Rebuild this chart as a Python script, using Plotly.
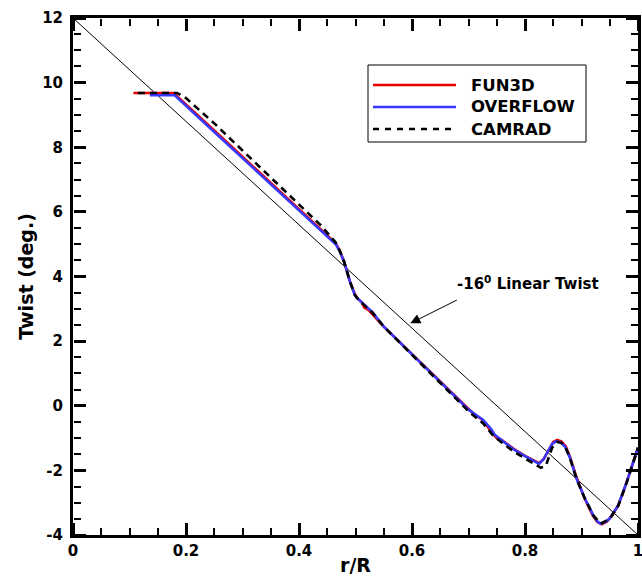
import plotly.graph_objects as go

# ---------------- data ----------------
fun3d_x = [0.107, 0.178, 0.25, 0.30, 0.35, 0.40, 0.44, 0.465, 0.472, 0.480, 0.490, 0.499, 0.505, 0.511,
           0.516, 0.522, 0.55, 0.60, 0.65, 0.70, 0.712, 0.722, 0.73, 0.742, 0.75, 0.758, 0.78, 0.80,
           0.815, 0.825, 0.833, 0.842, 0.85, 0.857, 0.864, 0.872, 0.88, 0.89, 0.905, 0.92, 0.928,
           0.936, 0.945, 0.955, 0.965, 0.975, 0.985, 0.993, 1.0]
fun3d_y = [9.68, 9.68, 8.52, 7.71, 6.90, 6.10, 5.45, 5.03, 4.80, 4.45, 3.85, 3.45, 3.30, 3.20,
           3.03, 2.98, 2.45, 1.60, 0.75, -0.12, -0.30, -0.40, -0.55, -0.85, -1.00, -1.05, -1.33, -1.55,
           -1.68, -1.78, -1.65, -1.35, -1.12, -1.06, -1.10, -1.25, -1.60, -2.15, -2.85, -3.40, -3.60,
           -3.67, -3.58, -3.38, -3.08, -2.62, -2.10, -1.65, -1.30]

overflow_x = [0.136, 0.18, 0.25, 0.30, 0.35, 0.40, 0.44, 0.465, 0.472, 0.48, 0.49, 0.499, 0.505, 0.515,
              0.53, 0.55, 0.60, 0.65, 0.70, 0.726, 0.74, 0.747, 0.76, 0.78, 0.80, 0.815, 0.825, 0.833,
              0.841, 0.848, 0.855, 0.863, 0.871, 0.88, 0.891, 0.906, 0.921, 0.928, 0.934, 0.942, 0.95,
              0.965, 0.98, 0.99, 1.0]
overflow_y = [9.61, 9.61, 8.47, 7.66, 6.85, 6.04, 5.40, 5.00, 4.78, 4.45, 3.85, 3.42, 3.30, 3.15,
              2.90, 2.45, 1.60, 0.75, -0.12, -0.44, -0.72, -0.91, -1.08, -1.35, -1.56, -1.70, -1.80, -1.65,
              -1.40, -1.18, -1.10, -1.13, -1.27, -1.63, -2.25, -2.87, -3.39, -3.58, -3.65, -3.60, -3.49,
              -3.08, -2.36, -1.85, -1.30]

camrad_x = [0.115, 0.184, 0.20, 0.22, 0.25, 0.30, 0.35, 0.40, 0.44, 0.465, 0.472, 0.48, 0.49, 0.499,
            0.505, 0.515, 0.53, 0.55, 0.60, 0.65, 0.70, 0.726, 0.745, 0.76, 0.78, 0.80, 0.815, 0.828,
            0.837, 0.848, 0.857, 0.865, 0.872, 0.88, 0.891, 0.906, 0.921, 0.934, 0.95, 0.965, 0.98,
            0.99, 1.0]
camrad_y = [9.68, 9.68, 9.52, 9.22, 8.74, 7.90, 7.06, 6.24, 5.56, 5.05, 4.80, 4.45, 3.85, 3.42,
            3.28, 3.12, 2.88, 2.45, 1.58, 0.72, -0.17, -0.55, -0.95, -1.15, -1.42, -1.63, -1.78, -1.92,
            -1.85, -1.30, -1.12, -1.15, -1.30, -1.65, -2.25, -2.88, -3.40, -3.65, -3.50, -3.10, -2.38,
            -1.85, -1.30]

linear_x = [0.0, 1.0]
linear_y = [12.0, -4.0]

x_range = [0, 1]
y_range = [-4, 12]
y_tickvals = [-4, -2, 0, 2, 4, 6, 8, 10, 12]
y_ticktext = ["-4", "-2", "0", "2", "4", "6", "8", "10", "12"]

series_names = ["FUN3D", "OVERFLOW", "CAMRAD"]
series_colors = ["#e60000", "#3838ff", "#000000"]
series_dash = ["solid", "solid", "7px,5px"]

# ---------------- figure ----------------
FONT = "DejaVu Sans"
W, H = 642, 581
ML, MR, MT, MB = 73, 4, 18, 46
PW, PH = W - ML - MR, H - MT - MB


def px(xp):
    return (xp - ML) / PW


def py(yp):
    return (H - MB - yp) / PH


fig = go.Figure()

fig.add_trace(go.Scatter(x=linear_x, y=linear_y, mode="lines",
                         line=dict(color="black", width=1), showlegend=False, hoverinfo="skip"))

data = [(fun3d_x, fun3d_y), (overflow_x, overflow_y), (camrad_x, camrad_y)]
for (xs, ys), name, col, dsh in zip(data, series_names, series_colors, series_dash):
    fig.add_trace(go.Scatter(x=xs, y=ys, mode="lines", name=name,
                             line=dict(color=col, width=2.6, dash=dsh), showlegend=False))

# invisible helper traces so that the inward-tick helper axes get drawn
for xa, ya in [("x2", "y2"), ("x3", "y3")]:
    fig.add_trace(go.Scatter(x=linear_x, y=linear_y, xaxis=xa, yaxis=ya, mode="lines",
                             line=dict(width=0), opacity=0, showlegend=False, hoverinfo="skip"))

tickfont = dict(family=FONT, size=15, color="black", weight="bold")
MAJ = dict(ticks="outside", ticklen=12, tickwidth=2.5, tickcolor="black")
MIN_X = dict(tick0=0, dtick=0.05, ticks="outside", ticklen=7, tickwidth=1.5, tickcolor="black", showgrid=False)
MIN_Y = dict(tick0=0, dtick=0.5, ticks="outside", ticklen=7, tickwidth=1.5, tickcolor="black", showgrid=False)
HELP = dict(showgrid=False, zeroline=False, showline=False, showticklabels=False, anchor="free",
            fixedrange=True, automargin=False)

fig.update_layout(
    xaxis=dict(
        range=x_range, tickmode="linear", tick0=0, dtick=0.2, automargin=False,
        showgrid=False, zeroline=False, showline=True, linecolor="black", linewidth=3,
        mirror=True, ticks="", tickfont=tickfont, ticklabelstandoff=0, ticklabeloverflow="allow",
        title=dict(text="r/R", font=dict(family=FONT, size=19, color="black", weight="bold"), standoff=0),
    ),
    yaxis=dict(
        range=y_range, tickmode="array", tickvals=y_tickvals, ticktext=y_ticktext, automargin=False,
        showgrid=False, zeroline=False, showline=True, linecolor="black", linewidth=3,
        mirror=True, ticks="", tickfont=tickfont, ticklabelstandoff=4, ticklabeloverflow="allow",
        title=dict(text="Twist (deg.)", font=dict(family=FONT, size=19, color="black", weight="bold"),
                   standoff=4),
    ),
    # helper axes: outside ticks placed on the opposite side so they point into the plot
    xaxis2=dict(range=x_range, overlaying="x", side="top", position=0, tickmode="linear", tick0=0,
                dtick=0.2, minor=MIN_X, **MAJ, **HELP),
    xaxis3=dict(range=x_range, overlaying="x", side="bottom", position=1, tickmode="linear", tick0=0,
                dtick=0.2, minor=MIN_X, **MAJ, **HELP),
    yaxis2=dict(range=y_range, overlaying="y", side="right", position=0, tickmode="linear", tick0=0,
                dtick=2, minor=MIN_Y, **MAJ, **HELP),
    yaxis3=dict(range=y_range, overlaying="y", side="left", position=1, tickmode="linear", tick0=0,
                dtick=2, minor=MIN_Y, **MAJ, **HELP),
)

# ---- custom legend ----
box = (368, 65, 586, 142)
fig.add_shape(type="rect", xref="paper", yref="paper",
              x0=px(box[0]), x1=px(box[2]), y0=py(box[3]), y1=py(box[1]),
              line=dict(color="black", width=1), fillcolor="white", layer="above")
rows = [85, 107, 129]
for yrow, name, col, dsh in zip(rows, series_names, series_colors, series_dash):
    fig.add_shape(type="line", xref="paper", yref="paper",
                  x0=px(373), x1=px(456), y0=py(yrow), y1=py(yrow),
                  line=dict(color=col, width=2.6, dash="6px,6px" if dsh != "solid" else "solid"),
                  layer="above")
    fig.add_annotation(xref="paper", yref="paper", x=px(469), y=py(yrow), text=name,
                       showarrow=False, xanchor="left", yanchor="middle",
                       font=dict(family=FONT, size=16.5, color="black", weight="bold"))

# ---- linear twist annotation ----
fig.add_annotation(x=0.597, y=2.55, xref="x", yref="y", text="", showarrow=True,
                   ax=48, ay=-24, arrowhead=2, arrowsize=2, arrowwidth=1, arrowcolor="black",
                   standoff=0, startstandoff=0)
fig.add_annotation(x=0.806, y=3.80, xref="x", yref="y",
                   text="-16<sup>0</sup> Linear Twist", showarrow=False,
                   xanchor="center", yanchor="middle",
                   font=dict(family=FONT, size=15, color="black", weight="bold"))

fig.update_layout(width=W, height=H, margin=dict(l=ML, r=MR, t=MT, b=MB, autoexpand=False),
                  paper_bgcolor="white", plot_bgcolor="white", showlegend=False)

fig.write_html("out.html")
